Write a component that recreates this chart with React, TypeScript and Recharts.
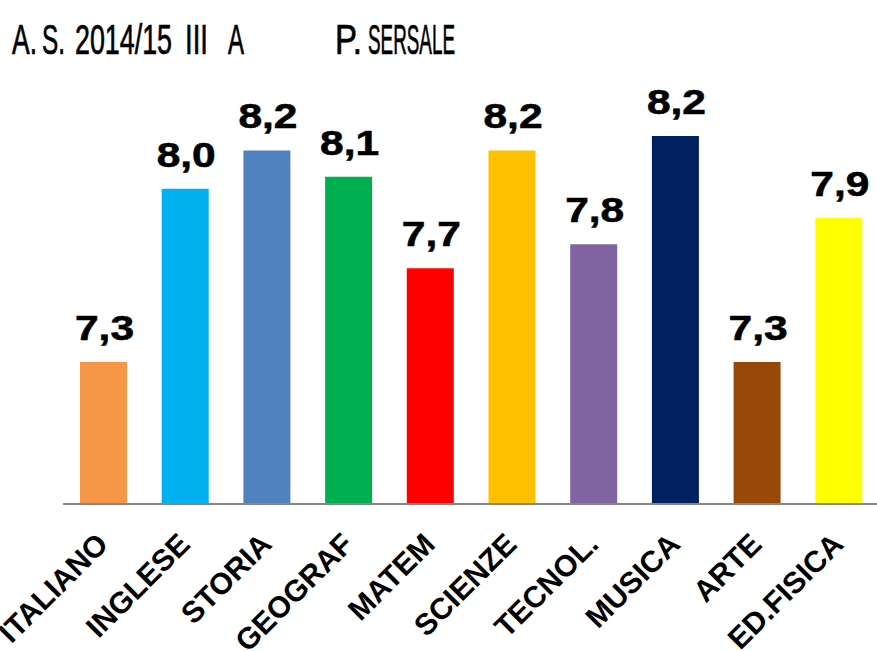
import { useLayoutEffect, useRef, useState } from 'react';
import { BarChart, Bar, XAxis, YAxis, Cell, LabelList } from 'recharts';

const subjects = ['ITALIANO', 'INGLESE', 'STORIA', 'GEOGRAF', 'MATEM', 'SCIENZE', 'TECNOL.', 'MUSICA', 'ARTE', 'ED.FISICA'];
const averages = [7.29, 8.01, 8.17, 8.06, 7.68, 8.17, 7.78, 8.23, 7.29, 7.89];
const barColors = ['#F79646', '#00B0F0', '#4F81BD', '#00B050', '#FF0000', '#FFC000', '#8064A2', '#002060', '#984807', '#FFFF00'];

const rows = subjects.map((s, i) => ({ subject: s, avg: averages[i] }));

const fmt = (v: number) => v.toFixed(1).replace('.', ',');

function SubjectTick({ x, y, payload }: any) {
  return (
    <text
      x={x + 6}
      y={y + 42}
      transform={`rotate(-45 ${x + 6} ${y + 42})`}
      textAnchor="end"
      fontFamily="'Liberation Sans', Arial, sans-serif"
      fontWeight="bold"
      fontSize={30}
      fill="#000"
    >
      {payload.value}
    </text>
  );
}

function ValueLabel({ x, y, width, value }: any) {
  const cx = x + width / 2 + 1;
  return (
    <g transform={`translate(${cx} ${y - 22}) scale(1.18 1)`}>
      <text
        x={0}
        y={0}
        textAnchor="middle"
        fontFamily="'Liberation Sans', Arial, sans-serif"
        fontWeight="bold"
        fontSize={36}
        stroke="#000"
        strokeWidth={0.6}
        fill="#000"
      >
        {fmt(Number(value))}
      </text>
    </g>
  );
}

// title words squeezed horizontally to the reference width
function SquishText({ x, y, width, children }: { x: number; y: number; width: number; children: string }) {
  const ref = useRef<SVGTextElement>(null);
  const [sx, setSx] = useState(1);
  useLayoutEffect(() => {
    if (ref.current) {
      const w = ref.current.getBBox().width;
      if (w > 0) setSx(width / w);
    }
  }, [width, children]);
  return (
    <g transform={`translate(${x} ${y}) scale(${sx} 1)`}>
      <text
        ref={ref}
        x={0}
        y={0}
        style={{ fontFamily: "'Liberation Sans', Arial, sans-serif", fontSize: '42px' }}
        fill="#000"
        stroke="#000"
        strokeWidth={0.7}
      >
        {children}
      </text>
    </g>
  );
}

export default function App() {
  return (
    <div style={{ position: 'absolute', left: 0, top: 0, width: 877, height: 651, overflow: 'hidden', background: '#fff' }}>
      <BarChart
        width={880}
        height={651}
        data={rows}
        margin={{ top: 71, right: 0, left: 63, bottom: 107 }}
      >
        <YAxis hide domain={[6.7, 8.5]} allowDataOverflow />
        <XAxis
          dataKey="subject"
          height={40}
          interval={0}
          tickSize={0}
          tickMargin={0}
          tickLine={false}
          axisLine={{ stroke: '#878787', strokeWidth: 2 }}
          tick={<SubjectTick />}
        />
        <Bar dataKey="avg" barSize={47} isAnimationActive={false}>
          {rows.map((r, i) => (
            <Cell key={r.subject} fill={barColors[i]} />
          ))}
          <LabelList dataKey="avg" content={<ValueLabel />} />
        </Bar>
      </BarChart>
      <svg width={877} height={80} style={{ position: 'absolute', left: 0, top: 0 }}>
        <SquishText x={12} y={54} width={25}>A.</SquishText>
        <SquishText x={42} y={54} width={23}>S.</SquishText>
        <SquishText x={75} y={54} width={97}>2014/15</SquishText>
        <SquishText x={185} y={54} width={23}>III</SquishText>
        <SquishText x={228} y={54} width={16}>A</SquishText>
        <SquishText x={335} y={54} width={27}>P.</SquishText>
        <SquishText x={368} y={54} width={87}>SERSALE</SquishText>
      </svg>
    </div>
  );
}
